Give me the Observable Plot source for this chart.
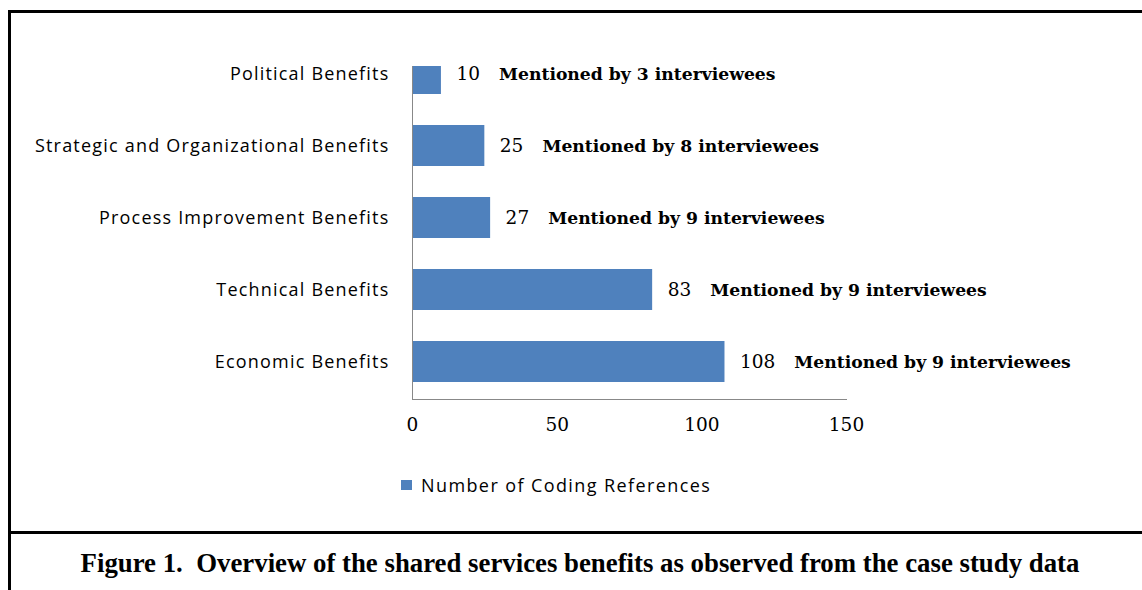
<!DOCTYPE html>
<html>
<head>
<meta charset="utf-8">
<script src="https://cdn.jsdelivr.net/npm/d3@7"></script>
<script src="https://cdn.jsdelivr.net/npm/@observablehq/plot@0.6"></script>
<style>
  html, body { margin: 0; padding: 0; background: #fff; }
  #wrap { position: relative; width: 1142px; height: 590px; overflow: hidden; background: #fff; }
  .line { position: absolute; background: #000; }
  #chart { position: absolute; left: 0; top: 0; }
  #legend { position: absolute; left: 401px; top: 473px; font-family: "Open Sans", sans-serif; font-size: 18px; letter-spacing: 1.4px; color: #000; display: flex; align-items: center; white-space: nowrap; }
  #legend .sw { width: 11px; height: 10px; background: #4F81BD; margin-right: 9px; }
  #caption { position: absolute; left: 0; width: 1160px; top: 548px; line-height: 31px; text-align: center; font-family: "Liberation Serif", "Times New Roman", serif; font-weight: bold; font-size: 26.8px; white-space: pre; color: #000; }
</style>
</head>
<body>
<div id="wrap">
  <div id="chart"></div>
  <div id="legend"><div class="sw"></div><span id="legendText"></span></div>
  <div class="line" style="left:8px; top:10px; width:1140px; height:2.5px;"></div>
  <div class="line" style="left:8px; top:10px; width:2.5px; height:590px;"></div>
  <div class="line" style="left:8px; top:531px; width:1140px; height:2.5px;"></div>
  <div id="caption"></div>
</div>
<script>
const categories = [
  "Political Benefits",
  "Strategic and Organizational Benefits",
  "Process Improvement Benefits",
  "Technical Benefits",
  "Economic Benefits"
];
const values = [10, 25, 27, 83, 108];
const interviewees = [3, 8, 9, 9, 9];
const xTicks = [0, 50, 100, 150];
const seriesName = "Number of Coding References";
const captionText = "Figure 1.  Overview of the shared services benefits as observed from the case study data";

const data = categories.map((c, i) => ({category: c, value: values[i], mentions: interviewees[i]}));

const svg = Plot.plot({
  width: 1142,
  height: 440,
  marginLeft: 412,
  marginRight: 296,
  marginTop: 66,
  marginBottom: 41,
  style: {background: "transparent", color: "#000"},
  x: {domain: [0, 150]},
  y: {domain: categories, range: [36.5, 399], paddingInner: 0.43, paddingOuter: 0.215},
  marks: [
    Plot.barX(data, {x: "value", y: "category", fill: "#4F81BD", clip: true}),
    Plot.frame({anchor: "left", stroke: "#888"}),
    Plot.frame({anchor: "bottom", stroke: "#888"}),
    Plot.axisX({ticks: xTicks, tickSize: 0, tickPadding: 18, fontSize: 18.5, fontFamily: "DejaVu Serif", fill: "#000", label: null}),
    Plot.axisY({tickSize: 0, tickPadding: 23, fontSize: 18, fontFamily: "Open Sans", fill: "#000", label: null}),
    Plot.text(data, {x: "value", y: "category", text: d => String(d.value), dx: 15, textAnchor: "start", fontSize: 18.5, fontFamily: "DejaVu Serif", fill: "#000"})
  ]
});
document.getElementById("chart").appendChild(svg);

d3.select(svg).selectAll('g[aria-label="y-axis tick label"] text').style("letter-spacing", "1.2px");
d3.select(svg).selectAll('g[aria-label="text"] text').each(function(d, i) {
  const t = d3.select(this);
  t.append("tspan")
    .attr("dx", 19)
    .attr("font-weight", "bold")
    .attr("font-size", 17.2)
    .text(`Mentioned by ${interviewees[i]} interviewees`);
});

document.getElementById("legendText").textContent = seriesName;
document.getElementById("caption").textContent = captionText;
</script>
</body>
</html>
